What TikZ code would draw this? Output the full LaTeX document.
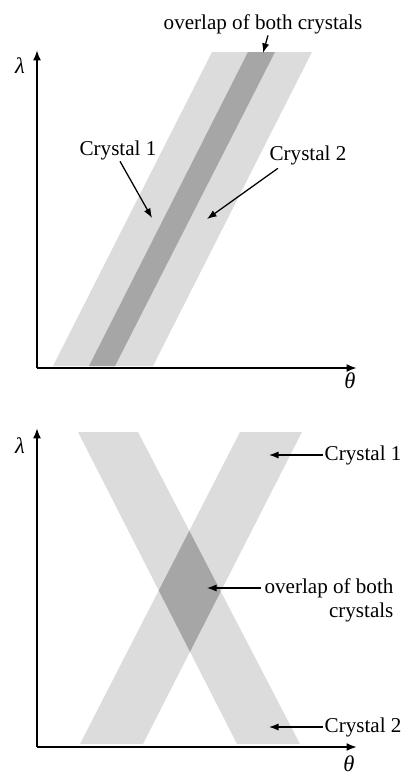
\documentclass[tikz,border=0pt]{standalone}
\usepackage{fontspec}
\setmainfont{Liberation Serif}
\newfontfamily\xtalfont{Liberation Serif}
\usetikzlibrary{arrows.meta}
\definecolor{xtallight}{HTML}{DCDCDC}
\definecolor{xtaldark}{HTML}{A6A6A6}
\begin{document}
\begin{tikzpicture}[x=0.025cm,y=-0.025cm,
  axis/.style={line width=1.4pt,-{Latex[length=2.6mm,width=2mm]}},
  arr/.style={line width=0.9pt,-{Latex[length=2.4mm,width=1.8mm]}},
  lbl/.style={font=\xtalfont\fontsize{15}{17}\selectfont,inner sep=1pt},
  sym/.style={font=\xtalfont\fontsize{16}{18}\selectfont\itshape,inner sep=0pt}]
  \useasboundingbox (0,0) rectangle (404,778);
  % parallel crystals
  \fill[xtallight] (53,366) -- (212,52) -- (275,52) -- (115,366) -- cycle;
  \fill[xtallight] (89,366) -- (248,52) -- (312,52) -- (153,366) -- cycle;
  \fill[xtaldark] (89,366) -- (248,52) -- (275,52) -- (115,366) -- cycle;
  \coordinate (o1) at (37,368);
  \coordinate (ytop1) at (37,50);
  \coordinate (xend1) at (357,368);
  \draw[axis] (o1) -- (ytop1);
  \draw[axis] (o1) -- (xend1);
  \node[sym] (lam1) at (20,66) {λ};
  \node[sym] (th1) at (350,381) {θ};
  \node[lbl] (ov1) at (263,24) {overlap of both crystals};
  \node[lbl] (c1a) at (118,150) {Crystal 1};
  \node[lbl] (c2a) at (308,155) {Crystal 2};
  \coordinate (ov1tip) at (263,53);
  \coordinate (c1atip) at (152,218);
  \coordinate (c2atip) at (207,219);
  \draw[arr] ([shift={(5,0)}]ov1.south) -- (ov1tip);
  \draw[arr] ([shift={(2,0)}]c1a.south) -- (c1atip);
  \draw[arr] ([shift={(10,2)}]c2a.south west) -- (c2atip);
  % crossing crystals
  \fill[xtallight] (78,432) -- (138,432) -- (300,744) -- (237,744) -- cycle;
  \fill[xtallight] (80,744) -- (143,744) -- (302,432) -- (240,432) -- cycle;
  \begin{scope}
    \clip (78,432) -- (138,432) -- (300,744) -- (237,744) -- cycle;
    \fill[xtaldark] (80,744) -- (143,744) -- (302,432) -- (240,432) -- cycle;
  \end{scope}
  \coordinate (o2) at (37,747);
  \coordinate (ytop2) at (37,428);
  \coordinate (xend2) at (357,747);
  \draw[axis] (o2) -- (ytop2);
  \draw[axis] (o2) -- (xend2);
  \node[sym] (lam2) at (20,446) {λ};
  \node[sym] (th2) at (349,764) {θ};
  \node[lbl,anchor=west] (c1b) at (323,455) {Crystal 1};
  \node[lbl,anchor=west] (c2b) at (323,727) {Crystal 2};
  \node[lbl,align=right] (ov2) at (329,600) {overlap of both\\crystals};
  \coordinate (c1btip) at (269,455);
  \coordinate (c2btip) at (269,727);
  \coordinate (ov2tip) at (207,588);
  \draw[arr] (c1b.west) -- (c1btip);
  \draw[arr] (c2b.west) -- (c2btip);
  \draw[arr] ([shift={(-2,-12)}]ov2.west) -- (ov2tip);
\end{tikzpicture}
\end{document}
